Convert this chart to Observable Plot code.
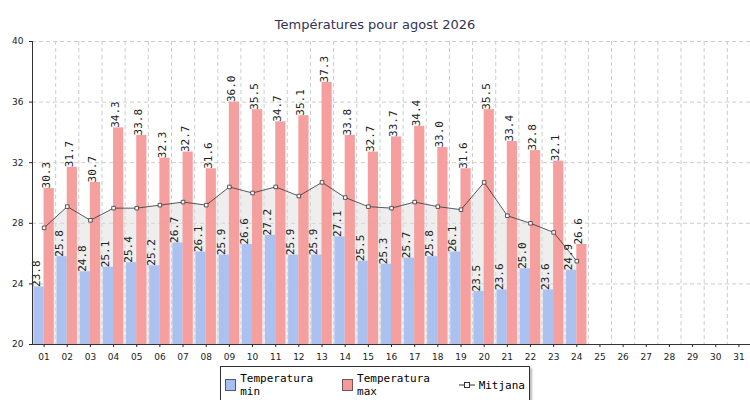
<!DOCTYPE html><html><head><meta charset="utf-8">
<script src="https://cdn.jsdelivr.net/npm/d3@7"></script>
<script src="https://cdn.jsdelivr.net/npm/@observablehq/plot@0.6"></script>
<style>body{margin:0;background:#fff;font-family:"DejaVu Sans";width:750px}
#t{height:33px;line-height:50px;text-align:center;font-size:13px;color:#335}
#lg{margin:4px auto 0;width:300px;border:1px solid #333;font-family:"DejaVu Sans Mono";font-size:11px;display:flex;gap:10px;justify-content:center;padding:5px 4px;box-shadow:2px 2px 2px #bbb}
#lg span{display:flex;align-items:center;gap:4px}
</style></head><body>
<div id="t">Températures pour agost 2026</div><div id="c"></div>
<div id="lg"><span><i style="display:inline-block;width:10px;height:10px;background:#a6bff0;border:1px solid #557"></i>Temperatura min</span><span><i style="display:inline-block;width:10px;height:10px;background:#f49a9a;border:1px solid #755"></i>Temperatura max</span><span><svg width="16" height="10"><line x1="0" y1="5" x2="16" y2="5" stroke="#333"/><rect x="5.5" y="2.5" width="5" height="5" fill="#fff" stroke="#333"/></svg>Mitjana</span></div>
<script>
const days=d3.range(1,32);
const tmin=[23.8,25.8,24.8,25.1,25.4,25.2,26.7,26.1,25.9,26.6,27.2,25.9,25.9,27.1,25.5,25.3,25.7,25.8,26.1,23.5,23.6,25.0,23.6,24.9];
const tmax=[30.3,31.7,30.7,34.3,33.8,32.3,32.7,31.6,36.0,35.5,34.7,35.1,37.3,33.8,32.7,33.7,34.4,33.0,31.6,35.5,33.4,32.8,32.1,26.6];
const tmean=[27.7,29.1,28.2,29.0,29.0,29.2,29.4,29.2,30.4,30.0,30.4,29.8,30.7,29.7,29.1,29.0,29.4,29.1,28.9,30.7,28.5,28.0,27.4,25.5];
const d=tmin.map((v,i)=>({day:i+1,min:v,max:tmax[i],mean:tmean[i]}));
const chart=Plot.plot({width:750,height:329,marginLeft:32,marginRight:0,marginTop:8,marginBottom:18,
 style:{fontFamily:"DejaVu Sans",fontSize:"9px",color:"#222"},
 x:{domain:[0.5,31.5],ticks:days,tickFormat:v=>String(v).padStart(2,"0"),label:null,tickSize:3},
 y:{domain:[20,40],ticks:d3.range(20,41,4),label:null,tickSize:3},
 marks:[
  Plot.ruleX(d3.range(0.5,32,1),{stroke:"#ccc",strokeDasharray:"4,3"}),
  Plot.ruleY(d3.range(20,41,4),{stroke:"#ccc",strokeDasharray:"4,3"}),
  Plot.areaY(d,{x:"day",y1:20,y2:"mean",fill:"#ddd",fillOpacity:0.5}),
  Plot.rectY(d,{x1:r=>r.day-0.5+0.06,x2:r=>r.day,y1:20,y2:"min",fill:"#a6bff0",fillOpacity:0.95}),
  Plot.rectY(d,{x1:r=>r.day,x2:r=>r.day+0.5-0.06,y1:20,y2:"max",fill:"#f49a9a",fillOpacity:0.95}),
  Plot.line(d,{x:"day",y:"mean",stroke:"#333",strokeWidth:0.8}),
  Plot.dot(d,{x:"day",y:"mean",symbol:"square",r:2,fill:"#fff",stroke:"#333",strokeWidth:0.8}),
  Plot.text(d,{x:r=>r.day-0.22,y:"min",text:r=>r.min.toFixed(1),rotate:-90,textAnchor:"start",dx:-3,dy:0,fontFamily:"DejaVu Sans Mono",fontSize:11,fill:"#222"}),
  Plot.text(d,{x:r=>r.day+0.22,y:"max",text:r=>r.max.toFixed(1),rotate:-90,textAnchor:"start",dx:-3,dy:0,fontFamily:"DejaVu Sans Mono",fontSize:11,fill:"#222"}),
  Plot.frame({anchor:"left",stroke:"#333"}),Plot.frame({anchor:"bottom",stroke:"#333"})
 ]});
document.getElementById("c").append(chart);
</script></body></html>
